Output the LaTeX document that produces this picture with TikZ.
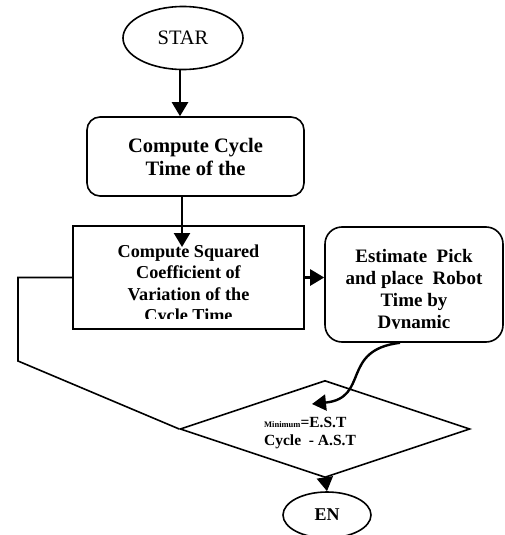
\documentclass[tikz,border=0pt]{standalone}
\usepackage{fontspec}
\setmainfont{Liberation Serif}
\usetikzlibrary{shapes.geometric,arrows.meta}

\begin{document}
\begin{tikzpicture}[x=1pt,y=-1pt,
  flow/.style={draw, line width=1.6pt, align=center, font=\bfseries\fontsize{19}{22}\selectfont},
  conn/.style={line width=2.4pt, -{Triangle[length=14pt,width=16pt]}},
  edge/.style={line width=1.6pt}]
\useasboundingbox (0,0) rectangle (504,535);

\node[flow, ellipse, minimum width=120pt, minimum height=63pt, font=\fontsize{20.5}{24}\selectfont] (start) at (183,38) {STAR};
\node[flow, rounded corners=13pt, minimum width=217pt, minimum height=79pt, font=\bfseries\fontsize{20.5}{23}\selectfont] (cycle) at (195.5,156.5) {Compute Cycle\\Time of the};
\node[flow, minimum width=231pt, minimum height=101pt, font=\bfseries\fontsize{18.2}{21.5}\selectfont] (scv) at (188.5,277.5) {\rule{0pt}{28pt}Compute Squared\\Coefficient of\\Variation of the\\Cycle Time};
\node[flow, rounded corners=17pt, minimum width=178pt, minimum height=115pt] (robot) at (414,284.5) {\rule{0pt}{26pt}Estimate\ \ Pick\\and place\ \ Robot\\Time by\\Dynamic};
\node[draw, diamond, line width=1.6pt, aspect=3, inner sep=0pt, minimum width=290pt, minimum height=97pt, font=\bfseries\fontsize{15.5}{18}\selectfont] (dec) at (325,429)
  {\begin{tabular}{@{}l@{}}\rule{0pt}{21pt}{\fontsize{8.5}{9}\selectfont Minimum}=E.S.T\\Cycle\ \ - A.S.T\end{tabular}\hspace*{30pt}};
\node[flow, ellipse, minimum width=88pt, minimum height=46pt, font=\bfseries\fontsize{18}{21}\selectfont] (end) at (327,515) {EN};

% text cut off at the box bottoms
\fill[white] ([xshift=3pt,yshift=2pt]scv.south west) rectangle ([xshift=-3pt,yshift=11pt]scv.south east);
\fill[white] ([xshift=20pt,yshift=2pt]robot.south west) rectangle ([xshift=-20pt,yshift=14pt]robot.south east);

\coordinate (in2) at (182,247);
\coordinate (fb) at (18,361);
\coordinate (tip) at (312,404);

\draw[conn] ([xshift=-3pt]start.south) -- ([xshift=-3pt]start.south |- cycle.north);
\draw[conn] (cycle.south -| in2) -- (in2);
\draw[conn] (scv.east) -- (robot.west |- scv.east);
\draw[edge] (scv.west) -| (fb) -- (dec.west);
\draw[conn] ([xshift=-14pt]robot.south) .. controls (340,350) and (370,398) .. (tip);
\draw[conn] (dec.south) -- (end.north);
\end{tikzpicture}
\end{document}
